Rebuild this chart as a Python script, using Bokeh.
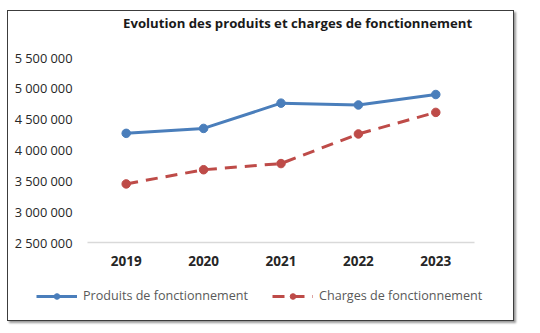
from bokeh.plotting import figure
from bokeh.models import Legend, LegendItem, FixedTicker, Label
from bokeh.layouts import column
from bokeh.embed import file_html
from bokeh.resources import INLINE

years = ["2019", "2020", "2021", "2022", "2023"]
produits = [4270000, 4350000, 4760000, 4730000, 4900000]
charges = [3450000, 3680000, 3780000, 4260000, 4610000]
y_ticks = [2500000, 3000000, 3500000, 4000000, 4500000, 5000000, 5500000]
y_labels = ["2 500 000", "3 000 000", "3 500 000", "4 000 000", "4 500 000", "5 000 000", "5 500 000"]
title = "Evolution des produits et charges de fonctionnement"
name_p = "Produits de fonctionnement"
name_c = "Charges de fonctionnement"

FONT = "Open Sans"
BLUE = "#4a7ebb"
RED = "#be4b48"
DASH = "12 8"

# title strip
r = figure(x_range=(0, 1), y_range=(0, 1), frame_width=505, frame_height=34,
           x_axis_location=None, y_axis_location=None,
           output_backend="svg", toolbar_location=None,
           min_border_left=0, min_border_right=0, min_border_top=0, min_border_bottom=0)
r.xgrid.grid_line_color = None
r.ygrid.grid_line_color = None
r.outline_line_color = None
r.add_layout(Label(x=114.5, y=22.5, x_units="screen", y_units="screen", text=title,
                   text_font=FONT, text_font_size="13.2px", text_font_style="bold",
                   text_color="#1a1a1a", text_align="left", text_baseline="middle"))

# main chart
p = figure(x_range=years, y_range=(2500000, 5500000), width=505, height=236,
           output_backend="svg", toolbar_location=None,
           min_border_left=79, min_border_right=39, min_border_top=12, min_border_bottom=39)

p.line(x=years, y=produits, line_color=BLUE, line_width=3)
p.scatter(x=years, y=produits, size=8.5, fill_color=BLUE, line_color=BLUE)
p.line(x=years, y=charges, line_color=RED, line_width=3, line_dash=DASH)
p.scatter(x=years, y=charges, size=8.5, fill_color=RED, line_color=RED)

p.xgrid.grid_line_color = None
p.ygrid.grid_line_color = None
p.outline_line_color = None

p.yaxis.ticker = FixedTicker(ticks=y_ticks)
p.yaxis.major_label_overrides = dict(zip(y_ticks, y_labels))
p.yaxis.axis_line_color = None
p.yaxis.major_tick_line_color = None
p.yaxis.minor_tick_line_color = None
p.yaxis.major_label_standoff = 9
p.yaxis.major_label_text_font = FONT
p.yaxis.major_label_text_font_size = "12.8px"
p.yaxis.major_label_text_color = "#262626"

p.xaxis.axis_line_color = "#d9d9d9"
p.xaxis.axis_line_width = 1.5
p.xaxis.major_tick_line_color = None
p.xaxis.minor_tick_line_color = None
p.xaxis.major_label_standoff = 7
p.xaxis.major_label_text_font = FONT
p.xaxis.major_label_text_font_size = "13.5px"
p.xaxis.major_label_text_font_style = "bold"
p.xaxis.major_label_text_color = "#262626"

# legend strip (renderers lie outside the visible range; only the legend shows)
q = figure(x_range=years, y_range=(0, 1), frame_width=505, frame_height=39,
           x_axis_location=None, y_axis_location=None,
           output_backend="svg", toolbar_location=None,
           min_border_left=0, min_border_right=0, min_border_top=0, min_border_bottom=0)
q.xgrid.grid_line_color = None
q.ygrid.grid_line_color = None
q.outline_line_color = None
ql1 = q.line(x=years, y=produits, line_color=BLUE, line_width=3)
qs1 = q.scatter(x=years, y=produits, size=8.5, fill_color=BLUE, line_color=BLUE)
ql2 = q.line(x=years, y=charges, line_color=RED, line_width=3, line_dash=DASH)
qs2 = q.scatter(x=years, y=charges, size=8.5, fill_color=RED, line_color=RED)

legend = Legend(items=[LegendItem(label=name_p, renderers=[ql1, qs1]),
                       LegendItem(label=name_c, renderers=[ql2, qs2])],
                orientation="horizontal", location=(28, 16),
                border_line_alpha=0, background_fill_alpha=0,
                glyph_width=41, glyph_height=14, label_standoff=6, spacing=24,
                label_text_font=FONT, label_text_font_size="12.6px",
                label_text_color="#595959", padding=0, margin=0)
q.add_layout(legend)

for f in (r, p, q):
    try:
        f.frame_align = False
    except Exception:
        pass

layout = column(r, p, q, spacing=0)
layout.styles = {"border": "1.5px solid #3c3c3c", "box-shadow": "2px 2px 2px #9a9a9a",
                 "position": "absolute", "left": "7px", "top": "10px"}

open("out.html", "w").write(file_html(layout, INLINE))
